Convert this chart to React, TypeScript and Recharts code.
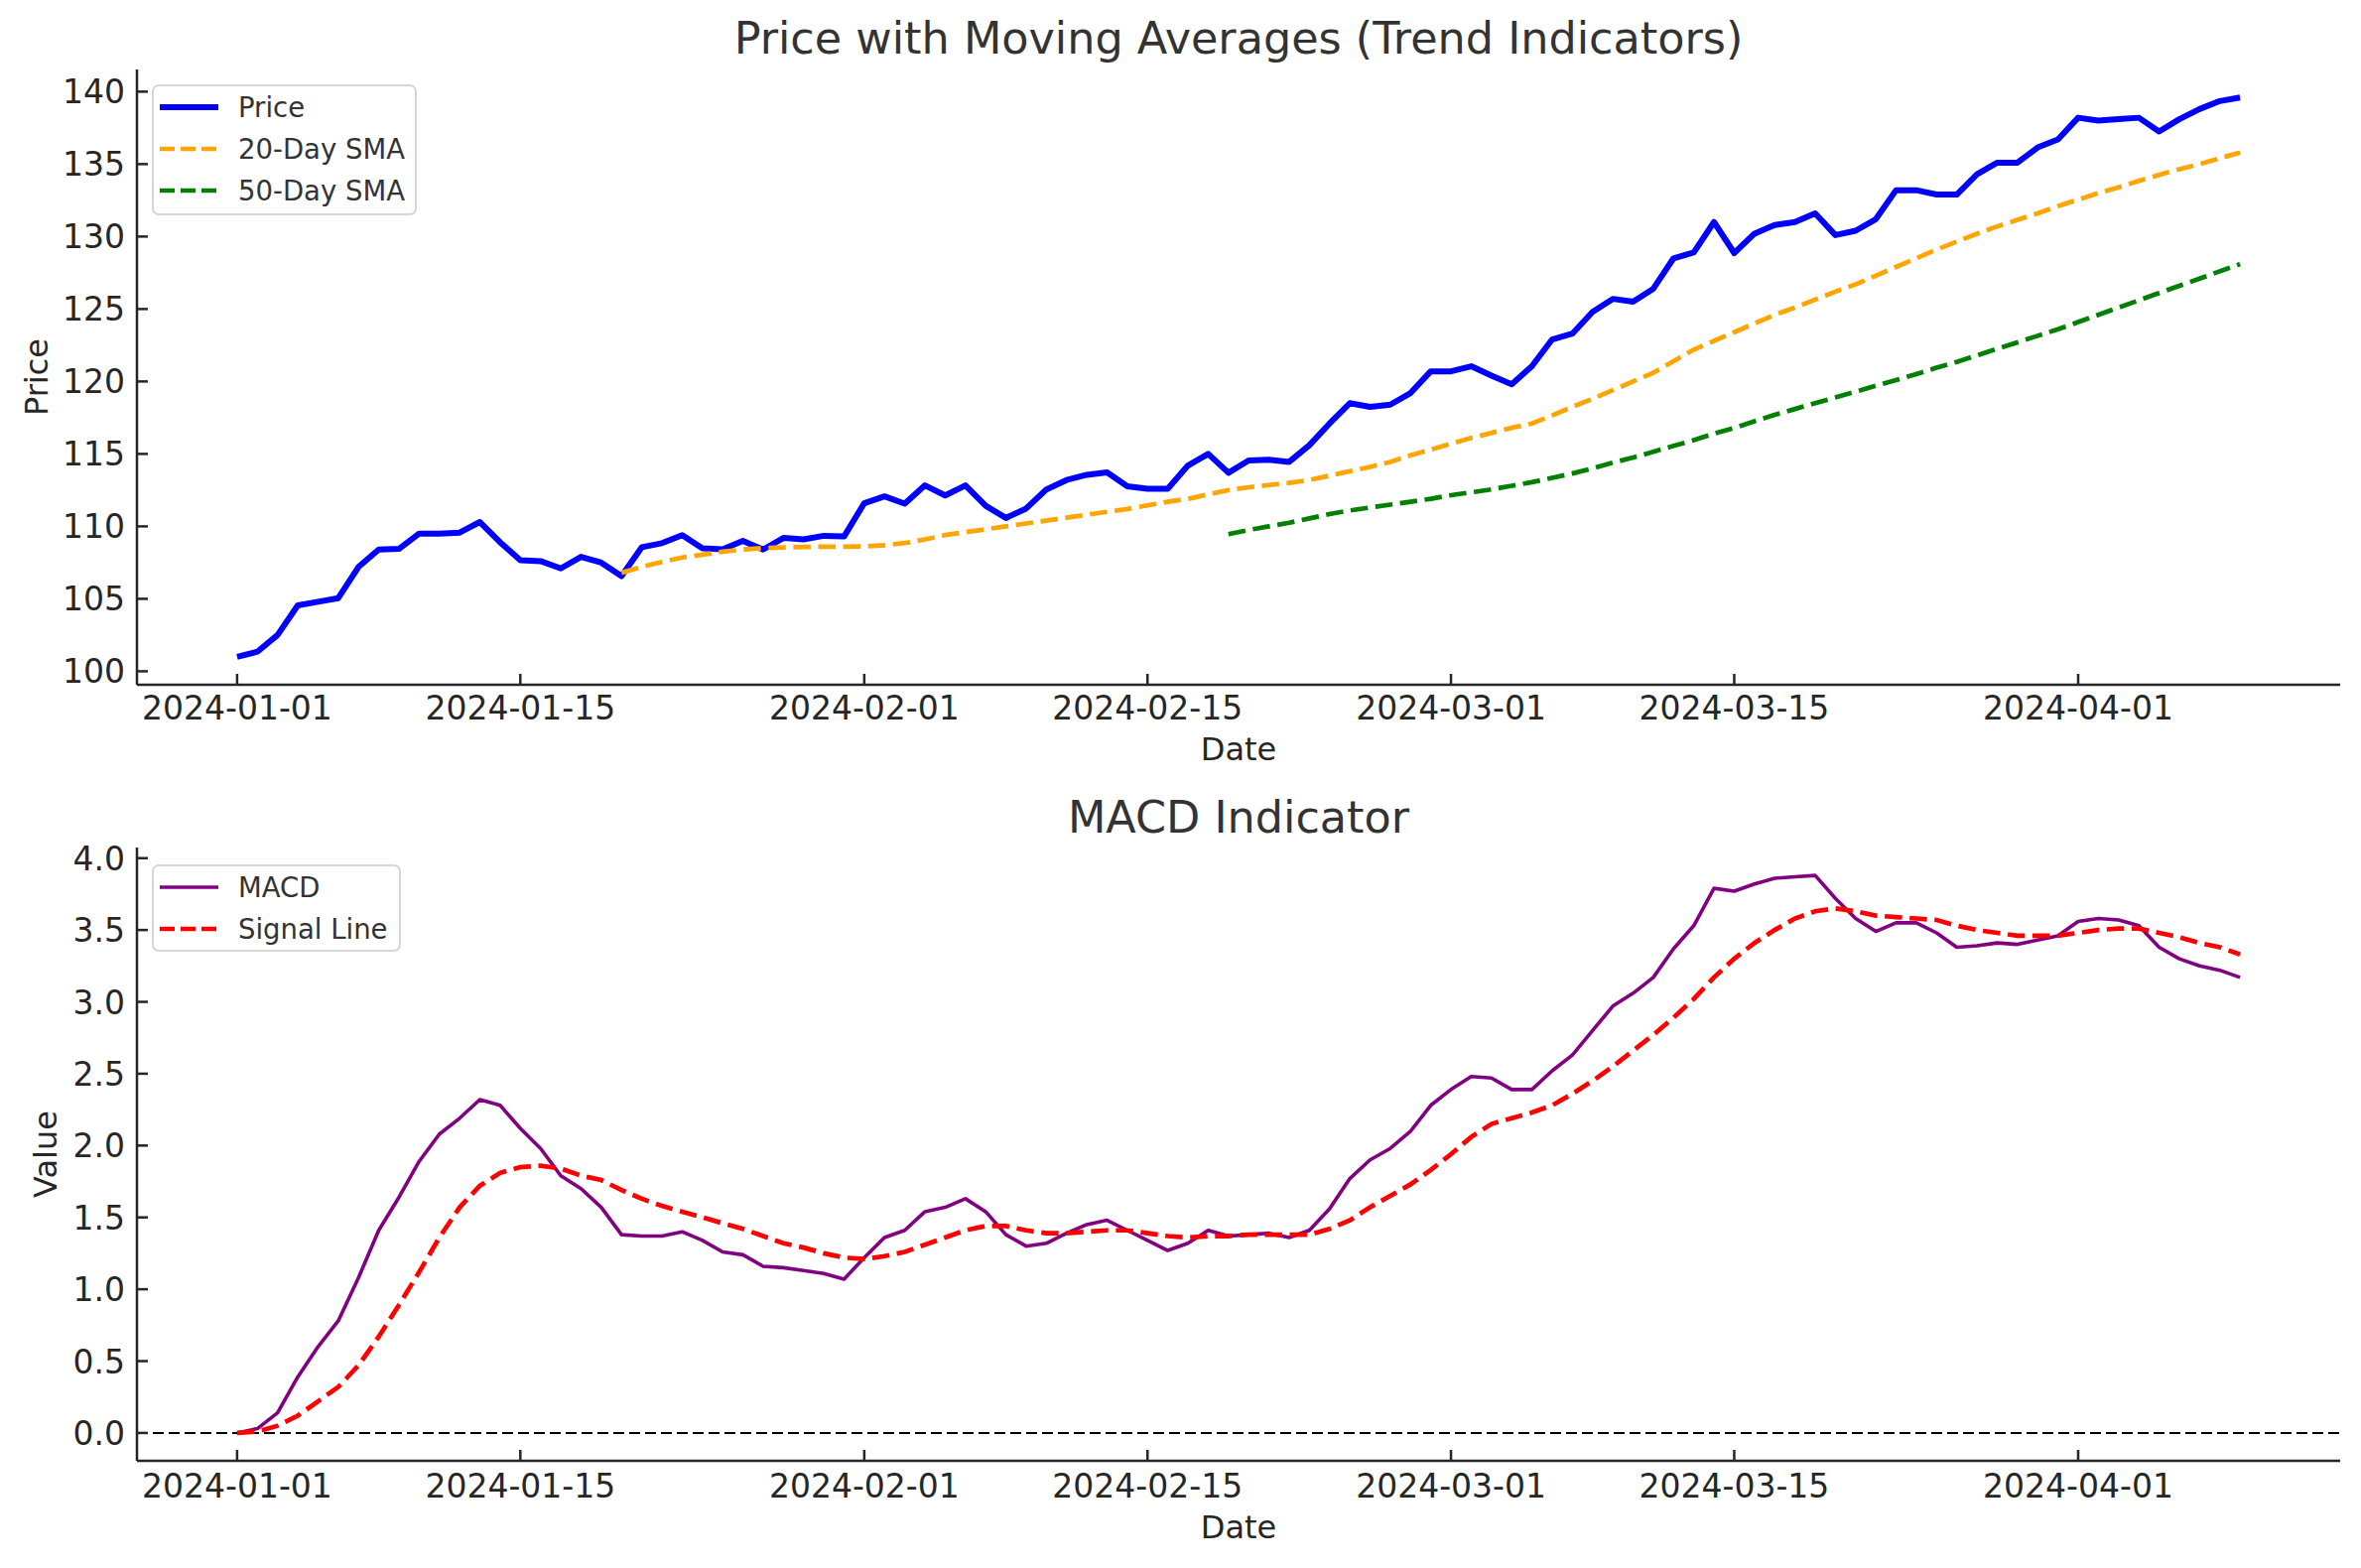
import { LineChart, Line, XAxis, YAxis, Legend, ReferenceLine } from "recharts"

const FONT = "'DejaVu Sans', sans-serif"
const INK = "#262626"
const TICK_LEN = 11
const TICK_FONT = 33

// day 0 = 2024-01-01, 100 trading days
const START = Date.UTC(2024, 0, 1)
const DAY_MS = 86400000

const price = [
  101.0, 101.35, 102.5, 104.55, 104.8, 105.05, 107.2, 108.4, 108.45, 109.5,
  109.5, 109.57, 110.3, 108.9, 107.66, 107.6, 107.1, 107.9, 107.5, 106.57,
  108.56, 108.84, 109.4, 108.48, 108.42, 109.0, 108.4, 109.2, 109.1, 109.35,
  109.3, 111.6, 112.07, 111.57, 112.83, 112.13, 112.83, 111.42, 110.58, 111.23,
  112.55, 113.2, 113.56, 113.73, 112.77, 112.6, 112.6, 114.2, 115.0, 113.7,
  114.55, 114.6, 114.45, 115.6, 117.1, 118.5, 118.25, 118.4, 119.2, 120.7,
  120.7, 121.05, 120.4, 119.8, 121.05, 122.9, 123.3, 124.8, 125.7, 125.5,
  126.4, 128.5, 128.9, 131.0, 128.86, 130.2, 130.8, 131.0, 131.6, 130.1,
  130.4, 131.2, 133.2, 133.2, 132.9, 132.9, 134.3, 135.1, 135.1, 136.15,
  136.7, 138.2, 138.0, 138.1, 138.2, 137.25, 138.1, 138.8, 139.35, 139.6,
]

// 20-day SMA starts on day 19
const SMA20_START = 19
const sma20 = [
  106.8, 107.2, 107.55, 107.85, 108.05, 108.25, 108.4, 108.5, 108.55, 108.58,
  108.6, 108.6, 108.62, 108.7, 108.85, 109.1, 109.4, 109.6, 109.8, 110.0,
  110.2, 110.4, 110.6, 110.8, 111.0, 111.2, 111.45, 111.7, 111.9, 112.2,
  112.5, 112.7, 112.85, 113.0, 113.2, 113.5, 113.8, 114.1, 114.45, 114.9,
  115.3, 115.7, 116.1, 116.45, 116.8, 117.1, 117.65, 118.25, 118.8, 119.4,
  120.0, 120.6, 121.4, 122.2, 122.8, 123.4, 124.0, 124.6, 125.1, 125.65,
  126.2, 126.7, 127.3, 127.9, 128.5, 129.1, 129.65, 130.2, 130.7, 131.15,
  131.6, 132.1, 132.55, 133.0, 133.4, 133.85, 134.25, 134.65, 135.0, 135.4,
  135.8,
]

// 50-day SMA starts on day 49
const SMA50_START = 49
const sma50 = [
  109.46, 109.75, 110.0, 110.25, 110.55, 110.85, 111.1, 111.3, 111.5, 111.7,
  111.9, 112.15, 112.35, 112.55, 112.8, 113.05, 113.35, 113.65, 114.0, 114.4,
  114.75, 115.15, 115.55, 115.95, 116.4, 116.8, 117.25, 117.7, 118.1, 118.5,
  118.9, 119.3, 119.7, 120.1, 120.5, 120.95, 121.35, 121.8, 122.25, 122.7,
  123.15, 123.6, 124.1, 124.6, 125.1, 125.6, 126.1, 126.6, 127.1, 127.6,
  128.1,
]

const macd = [
  0.0, 0.03, 0.14, 0.39, 0.6, 0.78, 1.08, 1.41, 1.64, 1.89,
  2.08, 2.19, 2.32, 2.28, 2.12, 1.98, 1.79, 1.7, 1.57, 1.38,
  1.37, 1.37, 1.4, 1.34, 1.26, 1.24, 1.16, 1.15, 1.13, 1.11,
  1.07, 1.22, 1.36, 1.41, 1.54, 1.57, 1.63, 1.54, 1.38, 1.3,
  1.32, 1.39, 1.45, 1.48, 1.41, 1.34, 1.27, 1.32, 1.41, 1.37,
  1.38, 1.39, 1.36, 1.41, 1.56, 1.77, 1.9, 1.98, 2.1, 2.28,
  2.39, 2.48, 2.47, 2.39, 2.39, 2.52, 2.63, 2.8, 2.97, 3.06,
  3.17, 3.37, 3.53, 3.79, 3.77, 3.82, 3.86, 3.87, 3.88, 3.72,
  3.58, 3.49, 3.55, 3.55, 3.48, 3.38, 3.39, 3.41, 3.4, 3.43,
  3.46, 3.56, 3.58, 3.57, 3.53, 3.38, 3.3, 3.25, 3.22, 3.17,
]

const signal = [
  0.0, 0.01, 0.05, 0.12, 0.22, 0.32, 0.47, 0.67, 0.89, 1.12,
  1.36, 1.57, 1.72, 1.81, 1.85, 1.86, 1.84, 1.79, 1.76, 1.69,
  1.63, 1.58, 1.54, 1.5, 1.46, 1.42, 1.37, 1.32, 1.29, 1.25,
  1.22, 1.21, 1.23, 1.26, 1.31, 1.36, 1.41, 1.44, 1.44, 1.41,
  1.39, 1.39, 1.4, 1.41, 1.41, 1.39, 1.37, 1.36, 1.37, 1.37,
  1.38, 1.38, 1.38, 1.38, 1.42, 1.48, 1.57, 1.65, 1.73, 1.83,
  1.94, 2.06, 2.15, 2.19, 2.23, 2.28, 2.36, 2.45, 2.55, 2.66,
  2.77, 2.89, 3.02, 3.17, 3.3, 3.41, 3.5, 3.58, 3.63, 3.65,
  3.63, 3.6, 3.59, 3.58, 3.57, 3.53, 3.5, 3.48, 3.46, 3.46,
  3.46, 3.48, 3.5, 3.51, 3.51, 3.48, 3.45, 3.41, 3.38, 3.33,
]

const tickDays = [0, 14, 31, 45, 60, 74, 91]
const tickLabels = ["2024-01-01", "2024-01-15", "2024-02-01", "2024-02-15", "2024-03-01", "2024-03-15", "2024-04-01"]
const priceTicks = [100, 105, 110, 115, 120, 125, 130, 135, 140]
const macdTicks = [0, 0.5, 1, 1.5, 2, 2.5, 3, 3.5, 4]

const priceLegend = [
  { name: "Price", color: "#0000ff", width: 6, dash: undefined },
  { name: "20-Day SMA", color: "#ffa500", width: 4.7, dash: "15 6" },
  { name: "50-Day SMA", color: "#008000", width: 4.7, dash: "15 6" },
]
const macdLegend = [
  { name: "MACD", color: "#800080", width: 3.6, dash: undefined },
  { name: "Signal Line", color: "#ff0000", width: 4.7, dash: "15 6" },
]

const dates = price.map((_, i) => new Date(START + i * DAY_MS).toISOString().slice(0, 10))

const priceRows = price.map((p, i) => ({
  day: i,
  date: dates[i],
  price: p,
  sma20: i >= SMA20_START ? sma20[i - SMA20_START] : null,
  sma50: i >= SMA50_START ? sma50[i - SMA50_START] : null,
}))

const macdRows = macd.map((m, i) => ({ day: i, date: dates[i], macd: m, signal: signal[i] }))

const X_DOMAIN = [-4.95, 103.95]
const PLOT_LEFT = 138
const CHART_W = 2379
const CHART_H = 790

function makeXTick(axisY: number, labelDy: number) {
  return (props: any) => {
    const { x, payload } = props
    const label = tickLabels[tickDays.indexOf(payload.value)]
    return (
      <g>
        <line x1={x} x2={x} y1={axisY} y2={axisY - TICK_LEN} stroke={INK} strokeWidth={2.5} />
        <text x={x} y={axisY + labelDy} textAnchor="middle" fontSize={TICK_FONT} fill={INK} fontFamily={FONT}>
          {label}
        </text>
      </g>
    )
  }
}

function makeYTick(fmt: (v: number) => string) {
  return (props: any) => {
    const { y, payload } = props
    return (
      <g>
        <line x1={PLOT_LEFT} x2={PLOT_LEFT + TICK_LEN} y1={y} y2={y} stroke={INK} strokeWidth={2.5} />
        <text x={PLOT_LEFT - 12} y={y + 12} textAnchor="end" fontSize={TICK_FONT} fill={INK} fontFamily={FONT}>
          {fmt(payload.value)}
        </text>
      </g>
    )
  }
}

const xTitle = (dy: number) => (props: any) => {
  const { viewBox } = props
  return (
    <text x={viewBox.x + viewBox.width / 2} y={viewBox.y + dy} textAnchor="middle" fontSize={32} fill={INK} fontFamily={FONT}>
      Date
    </text>
  )
}

const yTitle = (text: string, cx: number) => (props: any) => {
  const { viewBox } = props
  const cy = viewBox.y + viewBox.height / 2
  return (
    <text x={cx} y={cy + 11.5} transform={`rotate(-90 ${cx} ${cy})`} textAnchor="middle" fontSize={32} fill={INK} fontFamily={FONT}>
      {text}
    </text>
  )
}

function LegendBox({ items, width, height }: { items: typeof priceLegend; width: number; height: number }) {
  return (
    <div
      style={{
        width,
        height,
        boxSizing: "border-box",
        border: "2.5px solid #d6d6d6",
        borderRadius: 7,
        background: "rgba(255,255,255,0.8)",
        paddingTop: 0,
        paddingLeft: 6,
      }}
    >
      {items.map((it) => (
        <div key={it.name} style={{ display: "flex", alignItems: "center", height: 42 }}>
          <svg width={59} height={12} style={{ display: "block" }}>
            <line x1={0} x2={59} y1={6} y2={6} stroke={it.color} strokeWidth={it.width} strokeDasharray={it.dash} />
          </svg>
          <span style={{ marginLeft: 20, fontSize: 27.5, color: "#333", fontFamily: FONT, lineHeight: "42px" }}>{it.name}</span>
        </div>
      ))}
    </div>
  )
}

function Title({ text, top, size }: { text: string; top: number; size: number }) {
  return (
    <div
      style={{
        position: "absolute",
        left: PLOT_LEFT,
        width: 2220,
        top,
        textAlign: "center",
        fontSize: size,
        lineHeight: `${size}px`,
        color: "#333",
        fontFamily: FONT,
        whiteSpace: "nowrap",
      }}
    >
      {text}
    </div>
  )
}

export default function App() {
  return (
    <div style={{ position: "absolute", left: 0, top: 0, width: CHART_W, height: 1580, background: "#fff", fontFamily: FONT }}>
      <div style={{ position: "absolute", left: 0, top: 0 }}>
        <LineChart width={CHART_W} height={CHART_H} data={priceRows} margin={{ top: 70, right: 21, bottom: 0, left: 0 }}>
          <XAxis
            dataKey="day"
            type="number"
            domain={X_DOMAIN}
            allowDataOverflow
            ticks={tickDays}
            interval={0}
            height={100}
            tickLine={false}
            axisLine={{ stroke: INK, strokeWidth: 2.5 }}
            tick={makeXTick(690, 35)}
            label={{ content: xTitle(75.7) }}
          />
          <YAxis
            type="number"
            domain={[99.07, 141.53]}
            allowDataOverflow
            ticks={priceTicks}
            interval={0}
            width={PLOT_LEFT}
            tickLine={false}
            axisLine={{ stroke: INK, strokeWidth: 2.5 }}
            tick={makeYTick((v) => String(v))}
            label={{ content: yTitle("Price", 36) }}
          />
          <Line dataKey="price" name="Price" type="linear" stroke="#0000ff" strokeWidth={6} dot={false} strokeLinejoin="round" isAnimationActive={false} />
          <Line dataKey="sma20" name="20-Day SMA" type="linear" stroke="#ffa500" strokeWidth={4.7} strokeDasharray="17.5 7.6" dot={false} isAnimationActive={false} />
          <Line dataKey="sma50" name="50-Day SMA" type="linear" stroke="#008000" strokeWidth={4.7} strokeDasharray="17.5 7.6" dot={false} isAnimationActive={false} />
          <Legend
            layout="horizontal"
            verticalAlign="middle"
            align="center"
            wrapperStyle={{ position: "absolute", left: 153, top: 85, width: 267, height: 132 }}
            content={() => <LegendBox items={priceLegend} width={267} height={132} />}
          />
        </LineChart>
        <Title text="Price with Moving Averages (Trend Indicators)" top={17} size={44.5} />
      </div>

      <div style={{ position: "absolute", left: 0, top: CHART_H }}>
        <LineChart width={CHART_W} height={CHART_H} data={macdRows} margin={{ top: 64, right: 21, bottom: 0, left: 0 }}>
          <XAxis
            dataKey="day"
            type="number"
            domain={X_DOMAIN}
            allowDataOverflow
            ticks={tickDays}
            interval={0}
            height={108}
            tickLine={false}
            axisLine={{ stroke: INK, strokeWidth: 2.5 }}
            tick={makeXTick(682, 37)}
            label={{ content: xTitle(78) }}
          />
          <YAxis
            type="number"
            domain={[-0.194, 4.074]}
            allowDataOverflow
            ticks={macdTicks}
            interval={0}
            width={PLOT_LEFT}
            tickLine={false}
            axisLine={{ stroke: INK, strokeWidth: 2.5 }}
            tick={makeYTick((v) => v.toFixed(1))}
            label={{ content: yTitle("Value", 45) }}
          />
          <ReferenceLine y={0} stroke="#000" strokeWidth={2} strokeDasharray="11 5" />
          <Line dataKey="macd" name="MACD" type="linear" stroke="#800080" strokeWidth={3.6} dot={false} strokeLinejoin="round" isAnimationActive={false} />
          <Line dataKey="signal" name="Signal Line" type="linear" stroke="#ff0000" strokeWidth={4.7} strokeDasharray="17.5 7.6" dot={false} isAnimationActive={false} />
          <Legend
            layout="horizontal"
            verticalAlign="middle"
            align="center"
            wrapperStyle={{ position: "absolute", left: 153, top: 81, width: 251, height: 88 }}
            content={() => <LegendBox items={macdLegend} width={251} height={88} />}
          />
        </LineChart>
        <Title text="MACD Indicator" top={12} size={44.5} />
      </div>
    </div>
  )
}
